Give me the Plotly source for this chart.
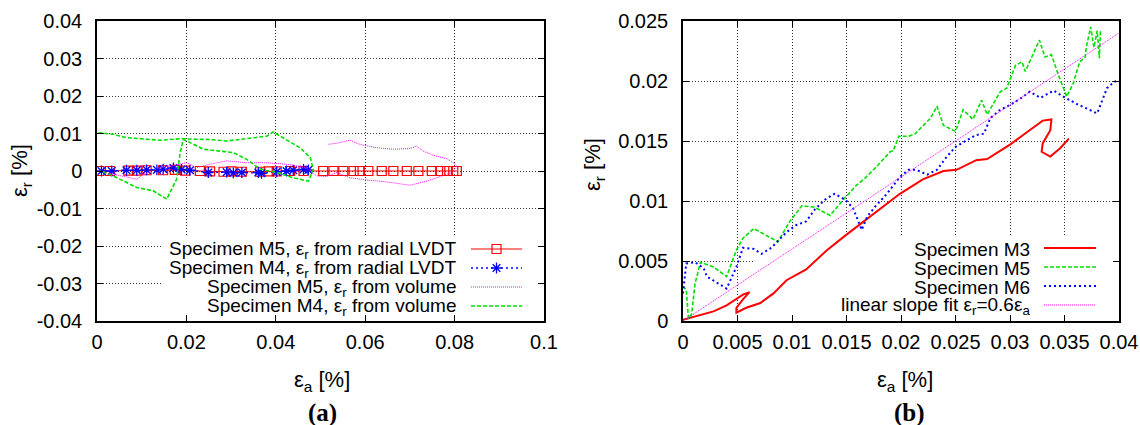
import plotly.graph_objects as go

W, H = 1140, 425

# ---------------- panel (a) data ----------------
m5_rad_x = [0.0005, 0.0029, 0.007, 0.0089, 0.0111, 0.0148, 0.0174, 0.0197, 0.023, 0.0253, 0.0283,
            0.0301, 0.0324, 0.0365, 0.0384, 0.0402, 0.0432, 0.0462, 0.0506, 0.0529, 0.0551, 0.0574,
            0.0588, 0.0607, 0.0637, 0.0663, 0.0693, 0.0719, 0.0749, 0.0768, 0.0783, 0.0797, 0.0805]
m5_rad_y = [0.0, 0.0, 0.0001, 0.0001, 0.0002, 0.0002, 0.0003, 0.0001, 0.0, -0.0001, -0.0002,
            -0.0001, -0.0002, -0.0002, -0.0001, -0.0001, 0.0, 0.0, 0.0, 0.0, 0.0, 0.0,
            0.0, 0.0, 0.0, 0.0, 0.0, 0.0, 0.0, 0.0, 0.0, 0.0, 0.0]

m4_rad_x = [0.0010, 0.0033, 0.0066, 0.0089, 0.0111, 0.0134, 0.0148, 0.0171, 0.0189, 0.0208, 0.0249,
            0.029, 0.0305, 0.0324, 0.0361, 0.0368, 0.0402, 0.0424, 0.0439, 0.0462, 0.0473]
m4_rad_y = [0.0, 0.0, 0.0002, 0.0002, 0.0003, 0.0003, 0.0005, 0.0008, 0.0004, 0.0002, -0.0004,
            -0.0003, -0.0005, -0.0004, -0.0004, -0.0006, -0.0002, 0.0, 0.0002, 0.0004, 0.0003]

m5_vol_x = [0.0003, 0.0037, 0.0066, 0.0089, 0.0104, 0.0141, 0.0171, 0.0201, 0.0223, 0.0253, 0.029,
            0.0335, 0.038, 0.0424, 0.0469, 0.0491, 0.0514, 0.0536, 0.0566, 0.0603, 0.0648, 0.07,
            0.0738, 0.0775, 0.0794, 0.0805, 0.0797, 0.0782, 0.0752, 0.073, 0.0715, 0.07, 0.0663,
            0.0626, 0.0588, 0.0566, 0.0536, 0.0517]
m5_vol_y = [0.0, -0.0009, -0.0015, -0.0022, -0.0009, 0.0009, 0.0015, 0.0022, 0.0009, 0.0018, 0.0027,
            0.0022, 0.0022, 0.0018, 0.0009, -0.0013, -0.0015, -0.0004, -0.0018, -0.0024, -0.0029, -0.0038,
            -0.0027, -0.0013, -0.0004, 0.0013, 0.0022, 0.0033, 0.0042, 0.0053, 0.0066, 0.006, 0.0058,
            0.0062, 0.0071, 0.0082, 0.0074, 0.0071]

m4_vol_x = [0.0003, 0.0037, 0.0066, 0.0111, 0.0141, 0.0186, 0.0215, 0.0253, 0.029, 0.0335, 0.038,
            0.0394, 0.0424, 0.0454, 0.0477, 0.0484, 0.0473, 0.0439, 0.0402, 0.0365, 0.0335, 0.0305,
            0.0275, 0.0238, 0.0201, 0.0193, 0.0186, 0.0178, 0.0156, 0.0126, 0.0089, 0.0051, 0.0029,
            0.0007]
m4_vol_y = [0.0102, 0.0098, 0.0089, 0.0084, 0.0082, 0.0086, 0.0086, 0.0084, 0.008, 0.0086, 0.0093,
            0.0104, 0.0084, 0.0062, 0.0036, 0.0004, -0.0027, -0.0018, -0.0004, 0.0005, 0.0031, 0.0049,
            0.0053, 0.0058, 0.008, 0.0084, 0.0049, -0.0022, -0.0075, -0.0053, -0.0044, -0.0022, -0.0009,
            0.0]

# ---------------- panel (b) data ----------------
m3_x = [0.0, 0.0013, 0.0028, 0.004, 0.0049, 0.0055, 0.0061, 0.0055, 0.0049, 0.0049, 0.0058, 0.0071,
        0.0083, 0.0095, 0.0113, 0.0132, 0.015, 0.0172, 0.0199, 0.022, 0.0239, 0.0251, 0.0269, 0.0279,
        0.03, 0.0318, 0.033, 0.0338, 0.0337, 0.033, 0.0329, 0.0337, 0.0346, 0.0354]
m3_y = [0.0001, 0.0004, 0.0008, 0.0013, 0.0018, 0.0022, 0.0024, 0.0018, 0.0011, 0.0007, 0.0011, 0.0015,
        0.0023, 0.0034, 0.0043, 0.0059, 0.0072, 0.0087, 0.0106, 0.0118, 0.0125, 0.0126, 0.0134, 0.0135,
        0.0147, 0.0159, 0.0167, 0.0168, 0.0159, 0.0148, 0.0141, 0.0137, 0.0144, 0.0152]

m5_x = [0.0, 0.0003, 0.0005, 0.0008, 0.0011, 0.0016, 0.0028, 0.004, 0.0049, 0.0055, 0.0065, 0.0077,
        0.0087, 0.0098, 0.0109, 0.012, 0.0135, 0.0147, 0.0159, 0.0167, 0.0178, 0.019, 0.0193, 0.0198,
        0.0207, 0.0213, 0.0227, 0.0233, 0.0239, 0.025, 0.0257, 0.0266, 0.0274, 0.0279, 0.0291, 0.0297,
        0.0305, 0.0311, 0.0314, 0.032, 0.0327, 0.0332, 0.0338, 0.0344, 0.0352, 0.0358, 0.0364, 0.0369,
        0.037, 0.0374, 0.0377, 0.038, 0.0382, 0.0383]
m5_y = [0.0029, 0.0026, 0.0002, 0.0006, 0.0031, 0.0049, 0.0045, 0.0037, 0.0059, 0.0069, 0.0077, 0.0071,
        0.0066, 0.0083, 0.0096, 0.0095, 0.0088, 0.0101, 0.0113, 0.0119, 0.0129, 0.0141, 0.0142, 0.0154,
        0.0154, 0.0156, 0.0169, 0.0179, 0.0163, 0.0158, 0.0176, 0.0168, 0.0184, 0.0172, 0.0191, 0.0194,
        0.0213, 0.0216, 0.0208, 0.022, 0.0234, 0.022, 0.0222, 0.0206, 0.0187, 0.0198, 0.0216, 0.022,
        0.0228, 0.0245, 0.0228, 0.0242, 0.0219, 0.0242]

m6_x = [0.0, 0.0003, 0.0011, 0.0019, 0.0022, 0.0034, 0.004, 0.0049, 0.0055, 0.0065, 0.0072, 0.0081,
        0.0089, 0.0095, 0.0104, 0.0113, 0.0121, 0.013, 0.0139, 0.0149, 0.0156, 0.0164, 0.0169, 0.0176,
        0.0187, 0.0193, 0.0199, 0.0207, 0.0214, 0.0224, 0.0233, 0.0242, 0.025, 0.0259, 0.0269, 0.0276,
        0.0282, 0.0291, 0.03, 0.0309, 0.0318, 0.0328, 0.0334, 0.034, 0.0349, 0.0361, 0.038, 0.0389,
        0.0395, 0.04]
m6_y = [0.0023, 0.0048, 0.0049, 0.0044, 0.0037, 0.003, 0.0027, 0.0045, 0.0061, 0.006, 0.0056, 0.0061,
        0.0068, 0.0074, 0.008, 0.0083, 0.0093, 0.0101, 0.0106, 0.0101, 0.0094, 0.0076, 0.0087, 0.0095,
        0.0106, 0.0113, 0.012, 0.0126, 0.0126, 0.0122, 0.0126, 0.0137, 0.0145, 0.015, 0.0155, 0.0156,
        0.0169, 0.0176, 0.018, 0.0185, 0.0191, 0.0186, 0.0189, 0.0192, 0.0187, 0.0181, 0.0173, 0.0194,
        0.0199, 0.0201]

fit_x = [0.0, 0.04]
fit_y = [0.0, 0.024]

# ---------------- ticks ----------------
a_xticks = [0, 0.02, 0.04, 0.06, 0.08, 0.1]
a_xlabels = ["0", "0.02", "0.04", "0.06", "0.08", "0.1"]
a_yticks = [-0.04, -0.03, -0.02, -0.01, 0, 0.01, 0.02, 0.03, 0.04]
a_ylabels = ["-0.04", "-0.03", "-0.02", "-0.01", "0", "0.01", "0.02", "0.03", "0.04"]
b_xticks = [0, 0.005, 0.01, 0.015, 0.02, 0.025, 0.03, 0.035, 0.04]
b_xlabels = ["0", "0.005", "0.01", "0.015", "0.02", "0.025", "0.03", "0.035", "0.04"]
b_yticks = [0, 0.005, 0.01, 0.015, 0.02, 0.025]
b_ylabels = ["0", "0.005", "0.01", "0.015", "0.02", "0.025"]

a_legend = ["Specimen M5, ε<sub>r</sub> from radial LVDT",
            "Specimen M4, ε<sub>r</sub> from radial LVDT",
            "Specimen M5, ε<sub>r</sub> from volume",
            "Specimen M4, ε<sub>r</sub> from volume"]
b_legend = ["Specimen M3", "Specimen M5", "Specimen M6",
            "linear slope fit ε<sub>r</sub>=0.6ε<sub>a</sub>"]

# ---------------- styles ----------------
FONT = "Liberation Sans"
SERIF = "Liberation Serif"
RED, GREEN, BLUE, MAG = "#ff0000", "#00e000", "#0000ff", "#ff00ff"
FS_TICK = 20
FS_KEY = 19
FS_TITLE = 22

sty_m5rad = dict(mode="lines+markers", line=dict(color=RED, width=1.2),
                 marker=dict(symbol="square-open", size=9, color=RED, line=dict(width=1.2, color=RED)))
sty_m4rad = dict(mode="lines+markers", line=dict(color=BLUE, width=1.3, dash="2px,3px"),
                 marker=dict(symbol="asterisk-open", size=9, color=BLUE, line=dict(width=1.3, color=BLUE)))
sty_mag = dict(mode="lines", line=dict(color=MAG, width=1, dash="1px,1px"))
sty_green = dict(mode="lines", line=dict(color=GREEN, width=1.6, dash="4px,2px"))
sty_red = dict(mode="lines", line=dict(color=RED, width=2))
sty_blue = dict(mode="lines", line=dict(color=BLUE, width=2, dash="2px,3px"))

# pixel frame of the two panels
AX0, AX1, BX0, BX1 = 97, 544, 683, 1119
TOP, BOT = 21, 321

fig = go.Figure()

# panel (a)
fig.add_trace(go.Scatter(x=m5_rad_x, y=m5_rad_y, xaxis="x", yaxis="y", **sty_m5rad))
fig.add_trace(go.Scatter(x=m4_rad_x, y=m4_rad_y, xaxis="x", yaxis="y", **sty_m4rad))
fig.add_trace(go.Scatter(x=m5_vol_x, y=m5_vol_y, xaxis="x", yaxis="y", **sty_mag))
fig.add_trace(go.Scatter(x=m4_vol_x, y=m4_vol_y, xaxis="x", yaxis="y", **sty_green))

# panel (b)
fig.add_trace(go.Scatter(x=m3_x, y=m3_y, xaxis="x2", yaxis="y2", **sty_red))
fig.add_trace(go.Scatter(x=m5_x, y=m5_y, xaxis="x2", yaxis="y2", **sty_green))
fig.add_trace(go.Scatter(x=m6_x, y=m6_y, xaxis="x2", yaxis="y2", **sty_blue))
fig.add_trace(go.Scatter(x=fit_x, y=fit_y, xaxis="x2", yaxis="y2", **sty_mag))

# legend keys (pixel overlay axis)
a_key_rows = [249, 268, 287, 306]
b_key_rows = [248, 267, 286, 305]
a_styles = [sty_m5rad, sty_m4rad, sty_mag, sty_green]
b_styles = [sty_red, sty_green, sty_blue, sty_mag]
for rows, styles, x0, x1, txt_r, labels in [
        (a_key_rows, a_styles, 471, 522, 458, a_legend),
        (b_key_rows, b_styles, 1044, 1096, 1032, b_legend)]:
    for ry, st, lab in zip(rows, styles, labels):
        st2 = dict(st)
        if "markers" in st2["mode"]:
            fig.add_trace(go.Scatter(x=[x0, x1], y=[ry, ry], xaxis="x3", yaxis="y3",
                                     mode="lines", line=st2["line"]))
            fig.add_trace(go.Scatter(x=[(x0 + x1) / 2], y=[ry], xaxis="x3", yaxis="y3",
                                     mode="markers", marker=st2["marker"]))
        else:
            fig.add_trace(go.Scatter(x=[x0, x1], y=[ry, ry], xaxis="x3", yaxis="y3", **st2))
        fig.add_annotation(x=txt_r / W, y=1 - (ry + 1) / H, xref="paper", yref="paper",
                           text=lab, showarrow=False, xanchor="right", yanchor="middle",
                           font=dict(family=FONT, size=FS_KEY, color="black"))

fig.update_traces(showlegend=False, hoverinfo="skip")


def axis(domain, rng, tv, tt, anchor, standoff):
    return dict(domain=domain, range=rng, tickvals=tv, ticktext=tt, anchor=anchor,
                showgrid=True, gridcolor="#333", griddash="1px,2px", gridwidth=1,
                zeroline=False, showline=True, linecolor="black", linewidth=1.5,
                mirror="ticks", ticks="inside", ticklen=6, tickcolor="black", tickwidth=1,
                tickfont=dict(family=FONT, size=FS_TICK, color="black"), ticklabelstandoff=standoff,
                automargin=False, fixedrange=True)


ydom = [1 - BOT / H, 1 - TOP / H]
fig.update_layout(
    width=W, height=H, margin=dict(l=0, r=0, t=0, b=0),
    paper_bgcolor="white", plot_bgcolor="rgba(0,0,0,0)", showlegend=False,
    xaxis=axis([AX0 / W, AX1 / W], [0, 0.1], a_xticks, a_xlabels, "y", 2),
    yaxis=axis(ydom, [-0.04, 0.04], a_yticks, a_ylabels, "x", 9),
    xaxis2=axis([BX0 / W, BX1 / W], [0, 0.04], b_xticks, b_xlabels, "y2", 2),
    yaxis2=axis(ydom, [0, 0.025], b_yticks, b_ylabels, "x2", 9),
    xaxis3=dict(domain=[0, 1], range=[0, W], visible=False, anchor="y3", fixedrange=True),
    yaxis3=dict(domain=[0, 1], range=[H, 0], visible=False, anchor="x3", fixedrange=True),
)

# opaque key boxes (hide grid behind the keys)
fig.add_shape(type="rect", xref="x", yref="y", x0=0.0145, x1=0.1, y0=-0.04, y1=-0.0175,
              fillcolor="white", line=dict(width=0), layer="between")
fig.add_shape(type="rect", xref="x2", yref="y2", x0=0.0066, x1=0.04, y0=0, y1=0.007,
              fillcolor="white", line=dict(width=0), layer="between")

# axis titles and panel labels
for cx, cy in [(322, 381), (905, 381)]:
    fig.add_annotation(x=cx / W, y=1 - cy / H, xref="paper", yref="paper", showarrow=False,
                       xanchor="center", yanchor="middle",
                       text="ε<sub>a</sub> [%]", font=dict(family=FONT, size=FS_TITLE, color="black"))
for cx, cy in [(21, 170), (594, 165)]:
    fig.add_annotation(x=cx / W, y=1 - cy / H, xref="paper", yref="paper", showarrow=False,
                       xanchor="center", yanchor="middle", textangle=-90, text="ε<sub>r</sub> [%]",
                       font=dict(family=FONT, size=FS_TITLE, color="black"))
for cx, lab in [(322, "(a)"), (909, "(b)")]:
    fig.add_annotation(x=cx / W, y=1 - 413 / H, xref="paper", yref="paper", showarrow=False,
                       xanchor="center", yanchor="middle",
                       text="<b>" + lab + "</b>", font=dict(family=SERIF, size=25, color="black"))

fig.write_html("out.html")
